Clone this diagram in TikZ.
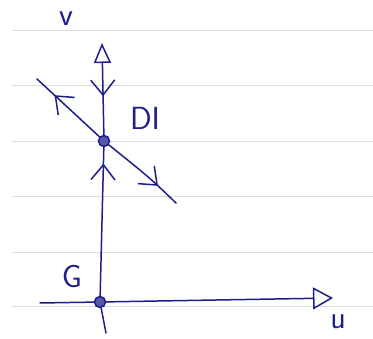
\documentclass[tikz,border=0pt]{standalone}
\usepackage{tikz}
\usetikzlibrary{arrows.meta,decorations.markings}
\definecolor{tinta}{HTML}{1C1F8A}
\definecolor{renglon}{HTML}{DCDCDC}

\begin{document}
\begin{tikzpicture}[x=1pt,y=-1pt,
    eje/.style={tinta,line width=1.5pt,line cap=round},
    punto/.style={circle,draw=tinta,line width=1.5pt,fill=tinta!75,minimum size=11pt,inner sep=0pt},
    etiq/.style={text=tinta,font=\sffamily\fontsize{32}{34}\selectfont},
    flecha/.style={postaction={decorate},decoration={markings,
      mark=at position #1 with {\arrow{Straight Barb[length=15pt,width=24pt,line width=1.5pt]}}}},
    flechainv/.style={postaction={decorate},decoration={markings,
      mark=at position #1 with {\arrowreversed{Straight Barb[length=15pt,width=24pt,line width=1.5pt]}}}}]
    \useasboundingbox (0,0) rectangle (373,339);
    % renglones del papel
    \foreach \y in {30,85,141,196,252,306} \draw[renglon,line width=0.8pt] (12,\y) -- (373,\y);
    % equilibrios
    \node[punto] (DI) at (104,141) {};
    \node[punto] (G) at (100,302) {};
    \coordinate (vtop) at (102,43);
    \coordinate (vbot) at (106,333);
    \coordinate (uizq) at (40,303);
    \coordinate (uder) at (333,298);
    \coordinate (diagizq) at (37,79);
    \coordinate (diagder) at (176,203);
    % eje v y variedad estable
    \draw[eje,-{Triangle[open,length=20pt,width=17pt,line width=1.5pt]},flechainv=0.42] (DI) -- (vtop);
    \draw[eje,flecha=0.89] (G) -- (DI);
    \draw[eje] (G) -- (vbot);
    % eje u
    \draw[eje] (uizq) -- (G);
    \draw[eje,-{Triangle[open,length=20pt,width=22pt,line width=1.5pt]}] (G) -- (uder);
    % variedad inestable
    \draw[eje,flecha=0.72] (DI) -- (diagizq);
    \draw[eje,flecha=0.72] (DI) .. controls (150,178) .. (diagder);
    % etiquetas
    \node[etiq] (lDI) at (145,118) {DI};
    \node[etiq] (lG) at (72,277) {G};
    \node[etiq] (lu) at (338,322) {u};
    \node[etiq] (lv) at (66,19) {v};
  \end{tikzpicture}
\end{document}
